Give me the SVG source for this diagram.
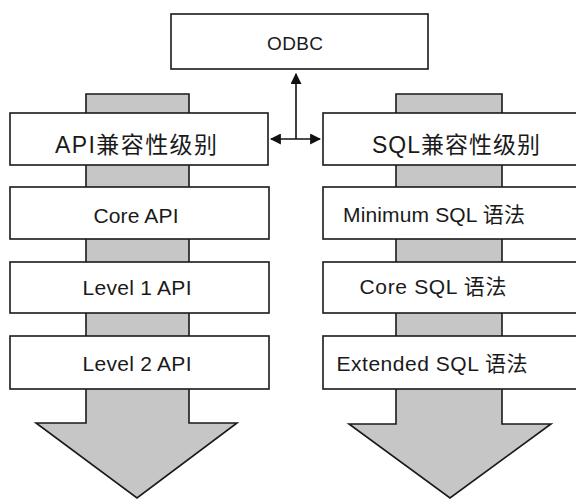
<svg xmlns="http://www.w3.org/2000/svg" width="576" height="499" viewBox="0 0 576 499">
<style>
.box{fill:#fff;stroke:#1a1a1a;stroke-width:1.6}
.band{fill:#c6c6c6;stroke:#1a1a1a;stroke-width:1.6;stroke-linejoin:miter}
.t{font-family:"Liberation Sans","Noto Sans CJK SC",sans-serif;font-size:21px;fill:#1a1a1a;text-anchor:middle}
.h{font-size:23px}
.ln{stroke:#111;stroke-width:1.6;fill:none}
</style>
<defs>
<marker id="ah" viewBox="0 0 10 10" refX="9" refY="5" markerWidth="11" markerHeight="11" markerUnits="userSpaceOnUse" orient="auto-start-reverse">
<path d="M0,0 L10,5 L0,10 Z" fill="#111"/>
</marker>
</defs>
<rect width="576" height="499" fill="#fff"/>
<g id="api-flow">
<path class="band" d="M86,94 H189 V423 H237 L137,498 L36,423 H86 Z"/>
</g>
<g id="sql-flow">
<path class="band" d="M396,94 H502 V424 H551 L450,498 L349,424 H396 Z"/>
</g>
<g id="connectors">
<path class="ln" d="M296,139 V74" marker-end="url(#ah)"/>
<path class="ln" d="M271,139 H320" marker-start="url(#ah)" marker-end="url(#ah)"/>
</g>
<g id="odbc">
<rect class="box" x="171" y="14" width="257" height="55"/>
<text class="t" x="295" y="50" textLength="56" style="font-size:19px">ODBC</text>
</g>
<g id="api-level">
<rect class="box" x="10" y="113" width="258" height="52"/>
<text class="t h" x="136" y="153" textLength="162">API兼容性级别</text>
</g>
<g id="core-api">
<rect class="box" x="10" y="187" width="259" height="52"/>
<text class="t" x="136" y="223" textLength="85">Core API</text>
</g>
<g id="level1-api">
<rect class="box" x="10" y="262" width="259" height="51"/>
<text class="t" x="137" y="295" textLength="109">Level 1 API</text>
</g>
<g id="level2-api">
<rect class="box" x="10" y="336" width="259" height="53"/>
<text class="t" x="137" y="371" textLength="109">Level 2 API</text>
</g>
<g id="sql-level">
<rect class="box" x="323" y="113" width="259" height="52"/>
<text class="t h" x="456" y="153" textLength="168">SQL兼容性级别</text>
</g>
<g id="minimum-sql">
<rect class="box" x="323" y="187" width="259" height="52"/>
<text class="t" x="434" y="222" textLength="182">Minimum SQL 语法</text>
</g>
<g id="core-sql">
<rect class="box" x="323" y="262" width="259" height="51"/>
<text class="t" x="433" y="294" textLength="147">Core SQL 语法</text>
</g>
<g id="extended-sql">
<rect class="box" x="323" y="336" width="259" height="53"/>
<text class="t" x="432" y="371" textLength="191">Extended SQL 语法</text>
</g>
</svg>
